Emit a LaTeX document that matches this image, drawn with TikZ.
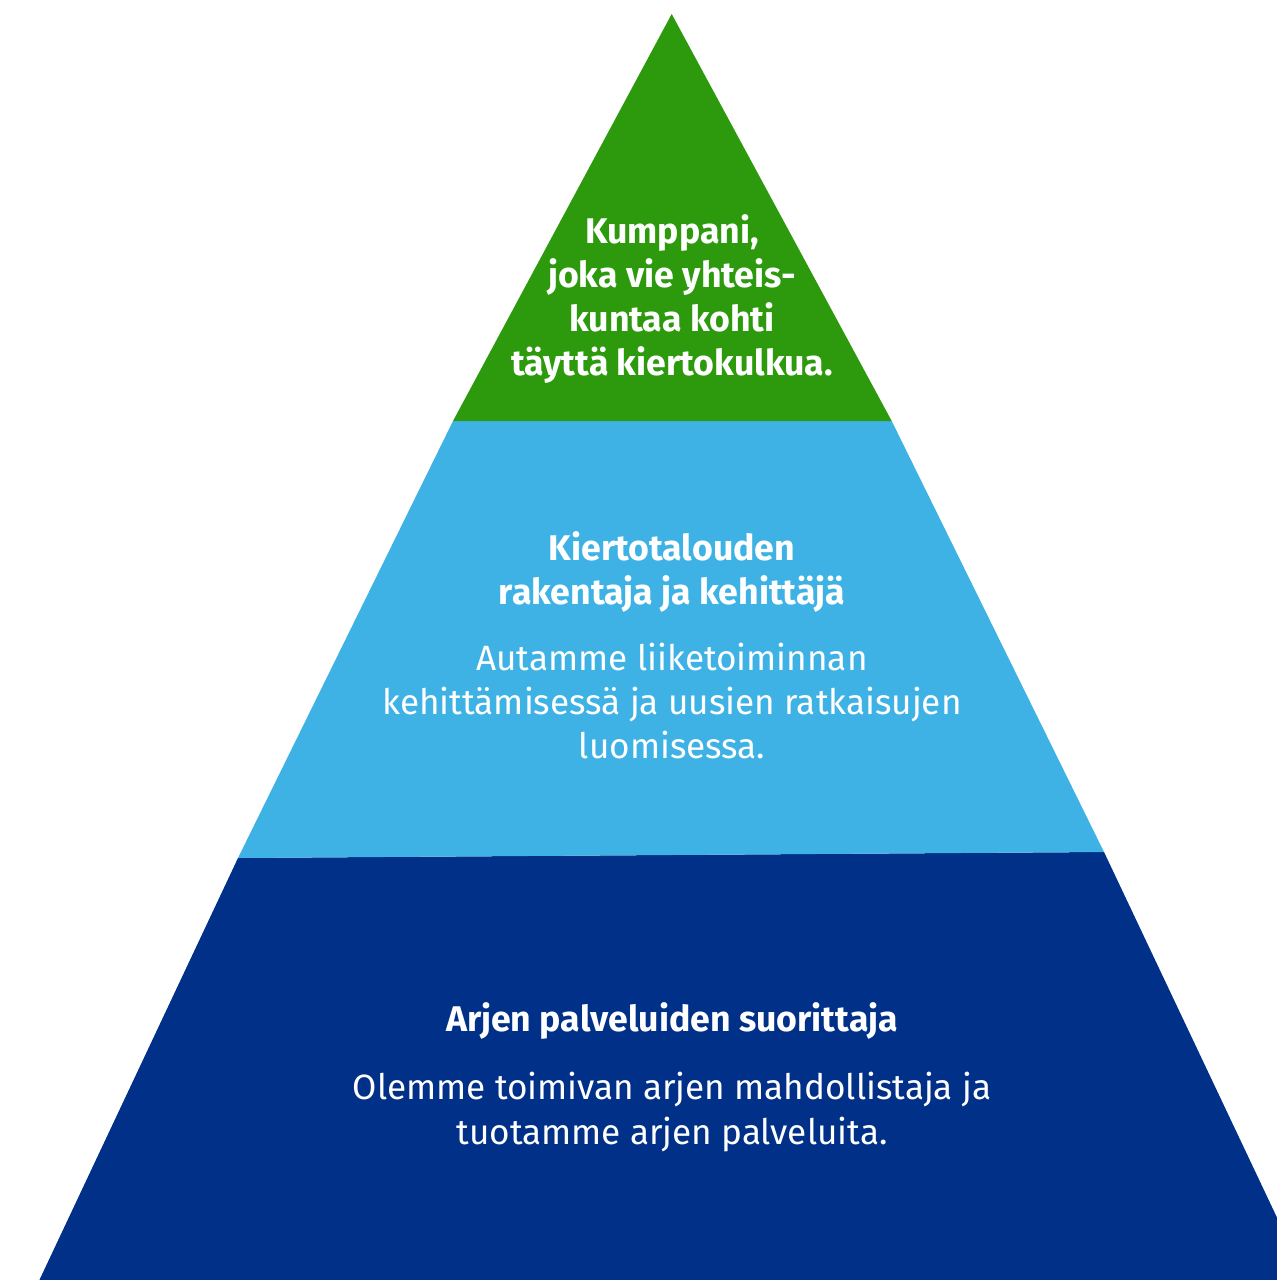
\documentclass[tikz,border=0pt]{standalone}
\usepackage{fontspec}
\setmainfont{Fira Sans}
\usepackage{tikz}
\definecolor{topgreen}{HTML}{2C9A0C}
\definecolor{midblue}{HTML}{3FB2E5}
\definecolor{basenavy}{HTML}{003087}
\tikzset{
	headtext/.style={text=white, align=center, font=\bfseries\fontsize{20.3}{25}\selectfont},
	bodytext/.style={text=white, align=center, font=\fontsize{20}{25.3}\selectfont}
}

\begin{document}
\begin{tikzpicture}[x=0.02cm, y=-0.02cm]
			%%%%% START %%%%%
			\useasboundingbox (0, 0) rectangle (1276, 1280);
			
			\fill[basenavy] (238, 858) -- (1104, 852) -- (1316, 1300) -- (30, 1300) -- cycle;
			\fill[midblue] (453, 421) -- (891.7, 421) -- (1104, 852) -- (238, 858) -- cycle;
			\fill[topgreen] (671.7, 14) -- (891.7, 421) -- (453, 421) -- cycle;
			
			\node[headtext] (kumppani) at (672, 299) {Kumppani,\\joka vie yhteis-\\kuntaa kohti\\täyttä kiertokulkua.};
			
			\node[headtext] (rakentaja) at (672, 572) {Kiertotalouden\\rakentaja ja kehittäjä};
			\node[bodytext] (autamme) at (672, 701) {Autamme liiketoiminnan\\kehittämisessä ja uusien ratkaisujen\\luomisessa.};
			
			\node[headtext] (suorittaja) at (672, 1021) {Arjen palveluiden suorittaja};
			\node[bodytext] (olemme) at (672, 1112) {Olemme toimivan arjen mahdollistaja ja\\tuotamme arjen palveluita.};
			
			%%%%% END %%%%%
\end{tikzpicture}
\end{document}
